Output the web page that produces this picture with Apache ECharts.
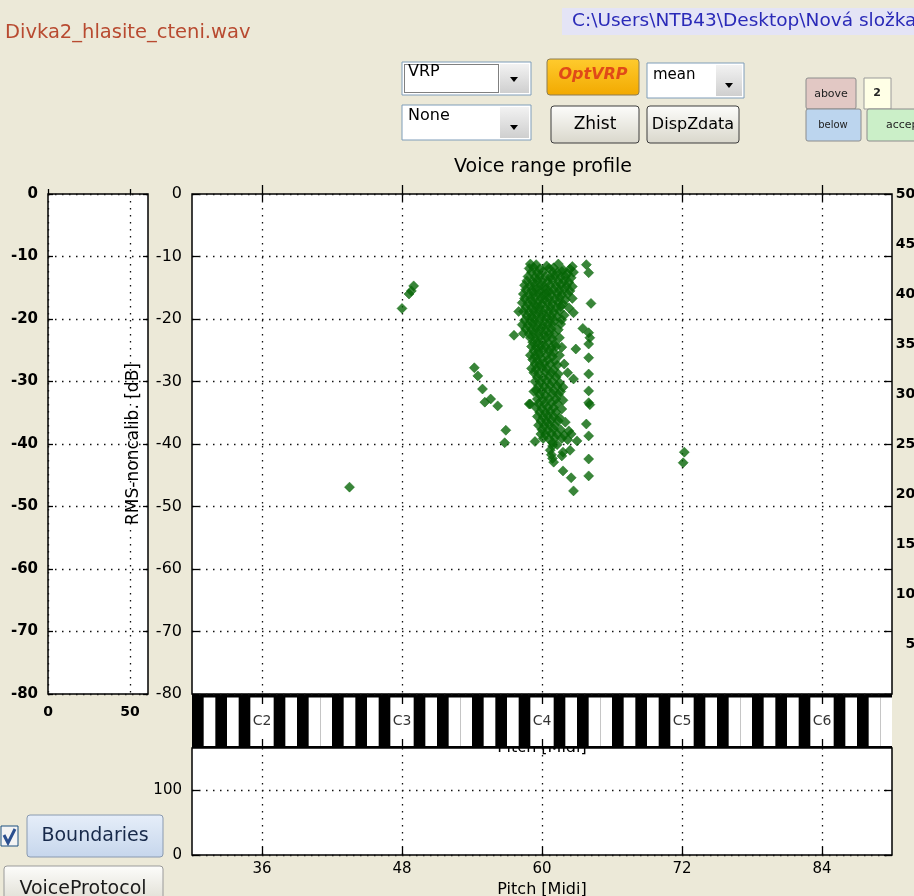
<!DOCTYPE html>
<html>
<head>
<meta charset="utf-8">
<title>Voice range profile</title>
<script src="https://cdn.jsdelivr.net/npm/echarts@6/dist/echarts.min.js"></script>
<style>
  html, body { margin: 0; padding: 0; background: #ECE9D8; }
  #chart { width: 914px; height: 896px; }
</style>
</head>
<body>
<div id="chart"></div>
<script>
// ---- tick values and labels ----
const pitchTicks = [36, 48, 60, 72, 84];
const noteLabels = ['C2', 'C3', 'C4', 'C5', 'C6'];
const sideTicks = [0, 50];
const histTicks = [0, 100];
const rightTicks = [50, 100, 150, 200, 250, 300, 350, 400, 450, 500];

// piano strip under the profile (MIDI note numbers) and black-key pitch classes
const keyNotes = [30, 31, 32, 33, 34, 35, 36, 37, 38, 39, 40, 41, 42, 43, 44, 45, 46, 47,
  48, 49, 50, 51, 52, 53, 54, 55, 56, 57, 58, 59, 60, 61, 62, 63, 64, 65, 66, 67, 68, 69,
  70, 71, 72, 73, 74, 75, 76, 77, 78, 79, 80, 81, 82, 83, 84, 85, 86, 87, 88, 89];
const blackClasses = [1, 3, 6, 8, 10];

// ---- voice range profile points: [pitch (MIDI), level (dB)] ----
const vrpUpper = [
  [59.0,-11.2],[59.5,-11.3],[60.4,-11.5],[61.4,-11.2],[62.6,-11.6],
  [58.9,-11.9],[59.3,-11.8],[59.8,-12.0],[60.6,-11.9],[61.0,-11.8],[61.8,-12.1],[62.4,-12.0],
  [59.1,-12.5],[59.6,-12.6],[60.1,-12.4],[60.9,-12.5],[61.3,-12.6],[61.7,-12.4],[62.2,-12.7],[62.7,-12.5],
  [58.8,-13.2],[59.4,-13.3],[59.8,-13.1],[60.3,-13.2],[60.7,-13.3],[61.1,-13.1],[61.6,-13.3],[62.0,-13.2],[62.5,-13.4],
  [58.7,-13.9],[59.2,-14.0],[59.6,-13.8],[60.0,-13.9],[60.5,-14.0],[60.9,-13.8],[61.4,-14.0],[61.9,-13.9],[62.3,-14.1],
  [58.5,-14.6],[59.0,-14.7],[59.4,-14.5],[59.9,-14.6],[60.2,-14.8],[60.7,-14.6],[61.2,-14.7],[61.6,-14.5],[62.1,-14.7],[62.6,-14.8],
  [58.6,-15.3],[59.1,-15.4],[59.5,-15.2],[59.8,-15.4],[60.3,-15.3],[60.6,-15.5],[61.0,-15.3],[61.5,-15.4],[61.9,-15.2],[62.4,-15.5],
  [58.4,-16.0],[58.9,-16.1],[59.3,-15.9],[59.7,-16.0],[60.1,-16.2],[60.4,-16.0],[60.8,-16.1],[61.3,-15.9],[61.7,-16.1],[62.2,-16.0],
  [58.5,-16.7],[59.0,-16.8],[59.4,-16.6],[59.9,-16.7],[60.2,-16.9],[60.6,-16.7],[61.1,-16.8],[61.5,-16.6],[62.0,-16.9],[62.6,-16.7],
  [58.3,-17.4],[58.8,-17.5],[59.2,-17.3],[59.6,-17.4],[60.0,-17.6],[60.5,-17.4],[60.9,-17.5],[61.4,-17.3],[61.8,-17.6],
  [58.6,-18.1],[59.1,-18.2],[59.5,-18.0],[59.8,-18.1],[60.3,-18.3],[60.7,-18.1],[61.2,-18.2],[61.6,-18.0],[62.3,-18.2],
  [58.4,-18.8],[58.9,-18.9],[59.3,-18.7],[59.7,-18.8],[60.1,-19.0],[60.6,-18.8],[61.0,-18.9],[61.5,-18.7],[62.7,-19.0],
  [58.7,-19.5],[59.1,-19.6],[59.5,-19.4],[60.0,-19.5],[60.4,-19.7],[60.8,-19.5],[61.3,-19.6],[61.9,-19.4],
  [58.5,-20.2],[59.0,-20.3],[59.4,-20.1],[59.8,-20.2],[60.2,-20.4],[60.7,-20.2],[61.1,-20.3],[61.7,-20.1],
  [58.3,-20.9],[58.8,-21.0],[59.2,-20.8],[59.6,-20.9],[60.1,-21.1],[60.5,-20.9],[60.9,-21.0],[61.6,-20.8],
  [58.6,-21.6],[59.1,-21.7],[59.5,-21.5],[59.9,-21.6],[60.3,-21.8],[60.8,-21.6],[61.4,-21.7],
  [58.4,-22.3],[58.9,-22.4],[59.3,-22.2],[59.7,-22.3],[60.2,-22.5],[60.6,-22.3],[61.0,-22.4],
  [59.0,-23.0],[59.4,-23.1],[59.8,-22.9],[60.4,-23.0],[60.9,-23.2],[61.5,-23.0],
  [59.2,-23.7],[59.6,-23.8],[60.0,-23.6],[60.5,-23.7],[61.1,-23.9]
];
const vrpLower = [
  [59.1,-24.4],[59.5,-24.5],[59.9,-24.3],[60.3,-24.4],[60.8,-24.6],[61.2,-24.4],[61.7,-24.5],
  [59.3,-25.1],[59.7,-25.2],[60.1,-25.0],[60.6,-25.1],[61.0,-25.3],[62.9,-24.8],
  [59.0,-25.8],[59.4,-25.9],[59.8,-25.7],[60.4,-25.8],[60.9,-26.0],[61.5,-25.8],
  [59.2,-26.5],[59.6,-26.6],[60.0,-26.4],[60.5,-26.5],[61.1,-26.7],
  [59.4,-27.2],[59.8,-27.3],[60.2,-27.1],[60.7,-27.2],[61.3,-27.4],[61.9,-27.2],
  [59.1,-27.9],[59.5,-28.0],[60.0,-27.8],[60.4,-27.9],[61.0,-28.1],
  [59.3,-28.6],[59.7,-28.7],[60.3,-28.5],[60.8,-28.6],[61.4,-28.8],[62.2,-28.6],
  [59.6,-29.3],[60.1,-29.4],[60.6,-29.2],[61.2,-29.3],[62.7,-29.6],
  [59.4,-30.0],[59.9,-30.1],[60.4,-29.9],[60.9,-30.0],[61.5,-30.2],
  [59.7,-30.7],[60.2,-30.8],[60.7,-30.6],[61.3,-30.7],[61.8,-30.9],
  [59.3,-31.6],[59.5,-31.4],[60.0,-31.5],[60.5,-31.3],[61.0,-31.4],[61.6,-31.6],
  [59.8,-32.1],[60.3,-32.2],[60.9,-32.0],[61.4,-32.1],
  [59.6,-32.8],[60.1,-32.9],[60.6,-32.7],[61.2,-32.8],[61.8,-33.0],
  [59.0,-33.6],[59.7,-33.5],[60.2,-33.6],[60.8,-33.4],[61.3,-33.5],
  [59.5,-34.2],[60.0,-34.3],[60.5,-34.1],[61.0,-34.2],[61.7,-34.4],
  [59.8,-34.9],[60.3,-35.0],[60.7,-34.8],[61.2,-34.9],
  [59.6,-35.6],[60.1,-35.7],[60.5,-35.5],[61.0,-35.6],[61.5,-35.8],
  [59.9,-36.3],[60.4,-36.4],[60.8,-36.2],[61.4,-36.3],[62.0,-36.5],
  [59.7,-37.0],[60.2,-37.1],[60.6,-36.9],[61.1,-37.0],
  [60.0,-37.7],[60.5,-37.8],[61.0,-37.6],[61.6,-37.7],[62.3,-37.9],
  [59.9,-38.4],[60.3,-38.5],[60.8,-38.3],[61.3,-38.4],[61.9,-38.6],[62.5,-38.4],
  [60.1,-39.1],[60.6,-39.2],[61.1,-39.0],[61.7,-39.1],[62.2,-39.3],
  [59.4,-39.6],[60.9,-39.8],[63.0,-39.5],
  [60.9,-40.3],[61.3,-40.1],
  [60.7,-41.0],[61.8,-41.3],[62.4,-41.0],
  [60.8,-41.7],[61.7,-41.9],
  [60.9,-42.3],[61.0,-42.9],
  [61.8,-44.3],[62.5,-45.4],[62.7,-47.5]
];
const vrpEdge = [
  [63.8,-11.3],[64.0,-12.6],[64.2,-17.5],[63.5,-21.5],[64.0,-22.2],[64.1,-23.0],[64.0,-24.0],
  [64.0,-26.2],[64.0,-28.8],[64.0,-31.5],[64.0,-33.4],[64.1,-33.7],[63.8,-36.8],[64.0,-38.7],
  [64.0,-42.4],[64.0,-45.1]
];
const vrpBranch = [
  [54.2,-27.8],[54.5,-29.1],[54.9,-31.2],[55.1,-33.3],[55.6,-32.8],[56.2,-33.9],
  [56.9,-37.8],[56.8,-39.8],[57.6,-22.6],[58.0,-18.8],[58.9,-33.6]
];
const vrpOutliers = [
  [49.0,-14.7],[48.8,-15.5],[48.6,-16.0],[48.0,-18.3],[43.5,-46.9],[72.2,-41.3],[72.1,-43.0]
];

// ---- styling helpers ----
const FONT = '"DejaVu Sans", "Liberation Sans", sans-serif';
const dotted = { color: '#111', width: 1.3, type: [1.5, 5.5] };
const tickStyle = { color: '#000', width: 1.3 };
const POINT = '#076607';
const MARK = 10;

function ax(extra) {
  return Object.assign({
    type: 'value',
    axisLine: { show: false },
    axisTick: { show: false },
    axisLabel: { show: false },
    splitLine: { show: false }
  }, extra);
}

// ---- window chrome (controls around the plot) ----
function rect(x, y, w, h, fill, stroke, r) {
  return { type: 'rect', shape: { x: x, y: y, width: w, height: h, r: r || 0 },
    style: { fill: fill, stroke: stroke || null, lineWidth: 1 } };
}
function txt(x, y, text, font, color, align) {
  return { type: 'text', x: x, y: y,
    style: { text: text, font: font, fill: color, align: align || 'center', verticalAlign: 'middle' } };
}
function grad(c0, c1) {
  return { type: 'linear', x: 0, y: 0, x2: 0, y2: 1, colorStops: [{ offset: 0, color: c0 }, { offset: 1, color: c1 }] };
}
function arrow(cx, cy) {
  return { type: 'polygon', shape: { points: [[cx - 4, cy - 2], [cx + 4, cy - 2], [cx, cy + 3]] }, style: { fill: '#000' } };
}
const xpButton = grad('#FDFDFB', '#D9D7CB');

const chrome = [
  txt(5, 33, 'Divka2_hlasite_cteni.wav', '19.5px ' + FONT, '#b84a30', 'left'),
  rect(562, 8, 360, 27, '#E4E4F6'),
  txt(572, 21, 'C:\\Users\\NTB43\\Desktop\\Nová složka', '18.5px ' + FONT, '#2a2ab8', 'left'),

  // VRP popup
  rect(402, 62, 129, 33, '#fff', '#7f9db9'),
  { type: 'rect', shape: { x: 404.5, y: 64.5, width: 94, height: 28 },
    style: { fill: null, stroke: '#000', lineWidth: 1, lineDash: [1, 1] } },
  rect(500, 64, 29, 29, grad('#F2F2F2', '#CFCFCF')),
  arrow(514, 79),
  txt(408, 72, 'VRP', '16px ' + FONT, '#000', 'left'),

  // None popup
  rect(402, 105, 129, 35, '#fff', '#7f9db9'),
  rect(500, 107, 29, 31, grad('#F2F2F2', '#CFCFCF')),
  arrow(514, 127),
  txt(408, 116, 'None', '16px ' + FONT, '#000', 'left'),

  // OptVRP
  rect(547, 59, 92, 36, grad('#FFCB2E', '#F2A900'), '#8d7d55', 3),
  txt(593, 75, 'OptVRP', 'italic bold 16px ' + FONT, '#e04a18'),

  // mean popup
  rect(647, 63, 97, 35, '#fff', '#7f9db9'),
  rect(716, 65, 26, 31, grad('#F2F2F2', '#CFCFCF')),
  arrow(729, 85),
  txt(653, 75, 'mean', '15px ' + FONT, '#000', 'left'),

  // Zhist, DispZdata
  rect(551, 106, 88, 37, xpButton, '#3c3c3c', 3),
  txt(595, 125, 'Zhist', '17px ' + FONT, '#000'),
  rect(647, 106, 92, 37, xpButton, '#3c3c3c', 3),
  txt(693, 125, 'DispZdata', '16px ' + FONT, '#000'),

  // boundary controls
  rect(806, 78, 50, 31, '#E2C8C4', '#8c8c8c', 2),
  txt(831, 94, 'above', '11px ' + FONT, '#222'),
  rect(864, 78, 27, 31, '#FFFFE6', '#9a9a9a'),
  txt(877, 93, '2', 'bold 11px ' + FONT, '#222'),
  rect(806, 109, 55, 32, '#BCD5EE', '#8c8c8c', 2),
  txt(833, 125, 'below', '10px ' + FONT, '#222'),
  rect(867, 109, 70, 32, '#CBEFC8', '#8c8c8c', 2),
  txt(886, 125, 'accept', '11px ' + FONT, '#222', 'left'),

  // Boundaries check box and button
  rect(1, 826, 17, 20, '#F4F4F4', '#1c5180'),
  { type: 'polyline', shape: { points: [[4, 835], [8, 843], [15, 829]] },
    style: { stroke: '#2b4f8f', lineWidth: 3, fill: null } },
  rect(27, 815, 136, 42, grad('#E6EEF9', '#C6D6EC'), '#8a9ab0', 3),
  txt(95, 836, 'Boundaries', '19px ' + FONT, '#17294a'),

  // VoiceProtocol button
  rect(4, 866, 159, 44, xpButton, '#9a9a9a', 3),
  txt(83, 889, 'VoiceProtocol', '19px ' + FONT, '#1a1a1a')
].map(function (e) { e.z = 20; return e; });

// ---- chart ----
const chart = echarts.init(document.getElementById('chart'), null, { renderer: 'canvas' });

function vrpSeries(name, data) {
  return { name: name, type: 'scatter', xAxisIndex: 0, yAxisIndex: 0, data: data,
    symbol: 'diamond', symbolSize: MARK,
    itemStyle: { color: POINT, borderColor: POINT, borderWidth: 0.6 } };
}
function panel(left, top, width, height, bg, border) {
  return { left: left, top: top, width: width, height: height, show: true,
    backgroundColor: bg, borderColor: '#000', borderWidth: border,
    containLabel: false, outerBoundsMode: 'none' };
}

const option = {
  animation: false,
  backgroundColor: '#ECE9D8',
  title: {
    text: 'Voice range profile', left: 449, top: 153,
    textStyle: { fontFamily: FONT, fontSize: 19, fontWeight: 'normal', color: '#000' }
  },
  grid: [
    panel(192, 194, 700, 500, '#fff', 1.5),
    panel(48, 194, 100, 500, '#fff', 1.5),
    panel(192, 694, 700, 54, '#000', 0),
    panel(192, 748, 700, 107, '#fff', 1.5)
  ],
  xAxis: [
    ax({ gridIndex: 0, min: 30, max: 90, position: 'bottom', z: 1,
      axisTick: { show: true, inside: true, length: 9, customValues: pitchTicks, lineStyle: tickStyle },
      splitLine: { show: true, lineStyle: dotted },
      name: 'Pitch [Midi]', nameLocation: 'middle', nameGap: 46,
      nameTextStyle: { fontFamily: FONT, fontSize: 16, color: '#000' } }),
    ax({ gridIndex: 0, min: 30, max: 90, position: 'top',
      axisTick: { show: true, inside: true, length: 7, customValues: pitchTicks, lineStyle: tickStyle } }),
    ax({ gridIndex: 1, min: 0, max: 61, position: 'bottom',
      axisTick: { show: true, inside: true, length: 5, customValues: sideTicks, lineStyle: tickStyle },
      axisLabel: { show: true, customValues: sideTicks, margin: 11, fontFamily: FONT, fontSize: 14, fontWeight: 'bold', color: '#000' },
      splitLine: { show: true, lineStyle: dotted } }),
    ax({ gridIndex: 2, min: 30, max: 90, position: 'bottom', z: 5,
      axisTick: { show: true, inside: true, length: 9, customValues: pitchTicks, lineStyle: tickStyle } }),
    ax({ gridIndex: 2, min: 30, max: 90, position: 'top', z: 5,
      axisTick: { show: true, inside: true, length: 10, customValues: pitchTicks, lineStyle: tickStyle } }),
    ax({ gridIndex: 3, min: 30, max: 90, position: 'bottom',
      axisTick: { show: true, inside: true, length: 8, customValues: pitchTicks, lineStyle: tickStyle },
      axisLabel: { show: true, customValues: pitchTicks, margin: 7, fontFamily: FONT, fontSize: 15, color: '#000' },
      splitLine: { show: true, lineStyle: dotted },
      name: 'Pitch [Midi]', nameLocation: 'middle', nameGap: 27,
      nameTextStyle: { fontFamily: FONT, fontSize: 16, color: '#000' } })
  ],
  yAxis: [
    ax({ gridIndex: 0, min: -80, max: 0, interval: 10, position: 'left',
      axisTick: { show: true, inside: true, length: 7, lineStyle: tickStyle },
      axisLabel: { show: true, margin: 10, fontFamily: FONT, fontSize: 16, color: '#000' },
      splitLine: { show: true, lineStyle: dotted },
      name: 'RMS-noncalib. [dB]', nameLocation: 'middle', nameGap: 50, nameRotate: 90,
      nameTextStyle: { fontFamily: FONT, fontSize: 17, color: '#000' } }),
    ax({ gridIndex: 0, min: -80, max: 0, interval: 10, position: 'right',
      axisTick: { show: true, inside: true, length: 8, lineStyle: tickStyle } }),
    ax({ gridIndex: 0, min: 0, max: 500, position: 'right',
      axisLabel: { show: true, customValues: rightTicks, align: 'right', margin: 33,
        fontFamily: FONT, fontSize: 14, fontWeight: 'bold', color: '#000' } }),
    ax({ gridIndex: 1, min: -80, max: 0, interval: 10, position: 'left',
      axisTick: { show: true, inside: true, length: 5, lineStyle: tickStyle },
      axisLabel: { show: true, margin: 10, fontFamily: FONT, fontSize: 15, fontWeight: 'bold', color: '#000' },
      splitLine: { show: true, lineStyle: dotted } }),
    ax({ gridIndex: 1, min: -80, max: 0, interval: 10, position: 'right',
      axisTick: { show: true, inside: true, length: 5, lineStyle: tickStyle } }),
    ax({ gridIndex: 2, min: 0, max: 1 }),
    ax({ gridIndex: 3, min: 0, max: 164.6, position: 'left',
      axisTick: { show: true, inside: true, length: 7, customValues: histTicks, lineStyle: tickStyle },
      axisLabel: { show: true, customValues: histTicks, margin: 10, fontFamily: FONT, fontSize: 15, color: '#000' },
      splitLine: { show: true, lineStyle: dotted } }),
    ax({ gridIndex: 3, min: 0, max: 164.6, position: 'right',
      axisTick: { show: true, inside: true, length: 8, customValues: histTicks, lineStyle: tickStyle } })
  ],
  series: [
    vrpSeries('upper', vrpUpper),
    vrpSeries('lower', vrpLower),
    vrpSeries('edge', vrpEdge),
    vrpSeries('branch', vrpBranch),
    vrpSeries('outliers', vrpOutliers),
    {
      // white keys on the black strip; black keys are the strip itself
      name: 'keyboard', type: 'custom', xAxisIndex: 3, yAxisIndex: 5, z: 3,
      data: keyNotes.map(function (n) { return [n, blackClasses.indexOf(n % 12) >= 0 ? 1 : 0]; }),
      renderItem: function (params, api) {
        if (api.value(1) === 1) return null;
        const n = api.value(0);
        const p0 = api.coord([n, 1]);
        const p1 = api.coord([n + 1, 0]);
        return { type: 'rect',
          shape: { x: p0[0], y: p0[1] + 3.5, width: p1[0] - p0[0], height: p1[1] - p0[1] - 5.5 },
          style: { fill: '#fff' } };
      }
    },
    {
      name: 'octaves', type: 'scatter', xAxisIndex: 3, yAxisIndex: 5, z: 4,
      data: pitchTicks.map(function (p, i) { return { name: noteLabels[i], value: [p, 0.5] }; }),
      symbolSize: 1, itemStyle: { color: 'rgba(0,0,0,0)' },
      label: { show: true, position: 'inside', formatter: '{b}', fontFamily: FONT, fontSize: 14, color: '#000' }
    }
  ],
  graphic: chrome
};

chart.setOption(option);
</script>
</body>
</html>
